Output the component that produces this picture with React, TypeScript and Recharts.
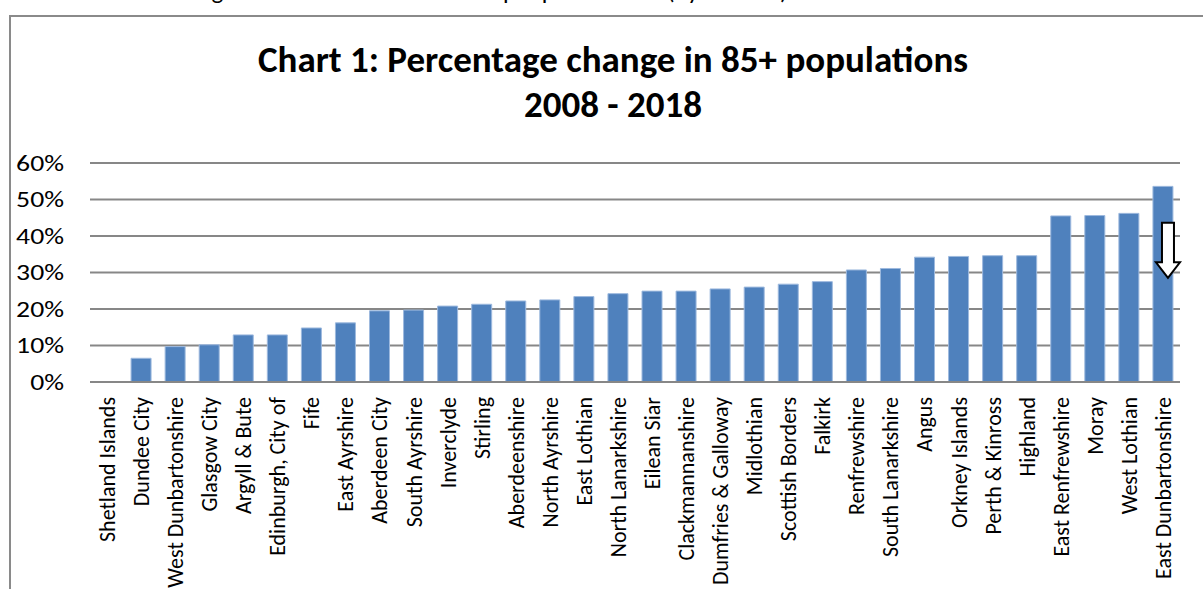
import React from 'react';
import { BarChart, Bar, XAxis, YAxis, CartesianGrid, ReferenceDot } from 'recharts';

const areas = [
  'Shetland Islands', 'Dundee City', 'West Dunbartonshire', 'Glasgow City', 'Argyll & Bute',
  'Edinburgh, City of', 'Fife', 'East Ayrshire', 'Aberdeen City', 'South Ayrshire',
  'Inverclyde', 'Stirling', 'Aberdeenshire', 'North Ayrshire', 'East Lothian',
  'North Lanarkshire', 'Eilean Siar', 'Clackmannanshire', 'Dumfries & Galloway', 'Midlothian',
  'Scottish Borders', 'Falkirk', 'Renfrewshire', 'South Lanarkshire', 'Angus',
  'Orkney Islands', 'Perth & Kinross', 'Highland', 'East Renfrewshire', 'Moray',
  'West Lothian', 'East Dunbartonshire',
];

const pctChange = [
  0, 6.5, 9.7, 10.2, 12.9,
  12.9, 14.8, 16.2, 19.5, 19.7,
  20.8, 21.3, 22.2, 22.5, 23.4,
  24.2, 24.9, 24.9, 25.5, 26.0,
  26.8, 27.5, 30.7, 31.1, 34.2,
  34.4, 34.6, 34.6, 45.5, 45.6,
  46.2, 53.6,
];

const yTicks = [0, 10, 20, 30, 40, 50, 60];

const titleLine1 = 'Chart 1: Percentage change in 85+ populations';
const titleLine2 = '2008 - 2018';
const cutWords = ['Change in the', 'people', '(by LA area)'];
const cutWordLeft = [160, 503, 667];

const arrowArea = 'East Dunbartonshire';
const arrowTopValue = 43.6;

const data = areas.map((name, i) => ({ name, value: pctChange[i] }));

const FONT = 'Carlito, Lato, "Open Sans", sans-serif';

const CategoryTick = (props: any) => {
  const { x, y, payload } = props;
  return (
    <text
      x={x}
      y={y + 15}
      transform={`rotate(-90, ${x}, ${y + 15})`}
      textAnchor="end"
      dy="0.36em"
      fontSize={22}
      fontFamily={FONT}
      fill="#000"
    >
      {payload.value}
    </text>
  );
};

const ValueTick = (props: any) => {
  const { x, y, payload } = props;
  return (
    <g transform={`translate(${x}, ${y}) scale(1.26, 1)`}>
      <text x={0} y={0} dy="0.36em" textAnchor="end" fontSize={22} fontFamily={FONT} fill="#000">
        {`${payload.value}%`}
      </text>
    </g>
  );
};

const DownArrow = (props: any) => {
  const { cx, cy } = props;
  if (cx == null || cy == null) return null;
  const l = cx - 1;
  const r = cx + 11;
  const hl = cx - 7;
  const hr = cx + 17;
  const hy = cy + 39.5;
  const tip = cy + 55;
  const mid = (hl + hr) / 2;
  const d = `M${l},${cy} L${r},${cy} L${r},${hy} L${hr},${hy} L${mid},${tip} L${hl},${hy} L${l},${hy} Z`;
  return <path d={d} fill="#fff" stroke="#000" strokeWidth={2} strokeLinejoin="miter" />;
};

export default function App() {
  return (
    <div
      style={{
        position: 'absolute',
        left: 0,
        top: 0,
        width: 1203,
        height: 589,
        overflow: 'hidden',
        background: '#fff',
        fontFamily: FONT,
      }}
    >
      {cutWords.map((w, i) => (
        <div
          key={w}
          style={{
            position: 'absolute',
            left: cutWordLeft[i],
            top: -25,
            fontSize: 25,
            whiteSpace: 'nowrap',
            color: '#000',
          }}
        >
          {w}
        </div>
      ))}
      <div
        style={{
          position: 'absolute',
          left: 9,
          top: 15,
          width: 1300,
          height: 700,
          border: '2px solid #8a8a8a',
        }}
      />
      <div
        style={{
          position: 'absolute',
          left: 0,
          top: 37,
          width: 1226,
          textAlign: 'center',
          fontWeight: 700,
          fontSize: 37,
          lineHeight: '45px',
          color: '#000',
        }}
      >
        <div>{titleLine1}</div>
        <div>{titleLine2}</div>
      </div>
      <div style={{ position: 'absolute', left: 0, top: 0 }}>
        <BarChart
          width={1203}
          height={589}
          data={data}
          margin={{ top: 163, right: 23, bottom: 0, left: 0 }}
          barSize={20}
        >
          <CartesianGrid vertical={false} stroke="#878787" strokeWidth={2} />
          <XAxis
            dataKey="name"
            interval={0}
            height={207}
            tickLine={false}
            tickSize={0}
            tickMargin={0}
            tick={<CategoryTick />}
            axisLine={{ stroke: '#878787', strokeWidth: 2 }}
          />
          <YAxis
            domain={[0, 60]}
            ticks={yTicks}
            width={90}
            axisLine={false}
            tickLine={false}
            tickSize={0}
            tickMargin={26}
            tick={<ValueTick />}
          />
          <Bar
            dataKey="value"
            fill="#4F81BD"
            stroke="#9DB9DE"
            strokeWidth={1}
            isAnimationActive={false}
          />
          <ReferenceDot
            x={arrowArea}
            y={arrowTopValue}
            shape={<DownArrow />}
            ifOverflow="visible"
          />
        </BarChart>
      </div>
    </div>
  );
}
